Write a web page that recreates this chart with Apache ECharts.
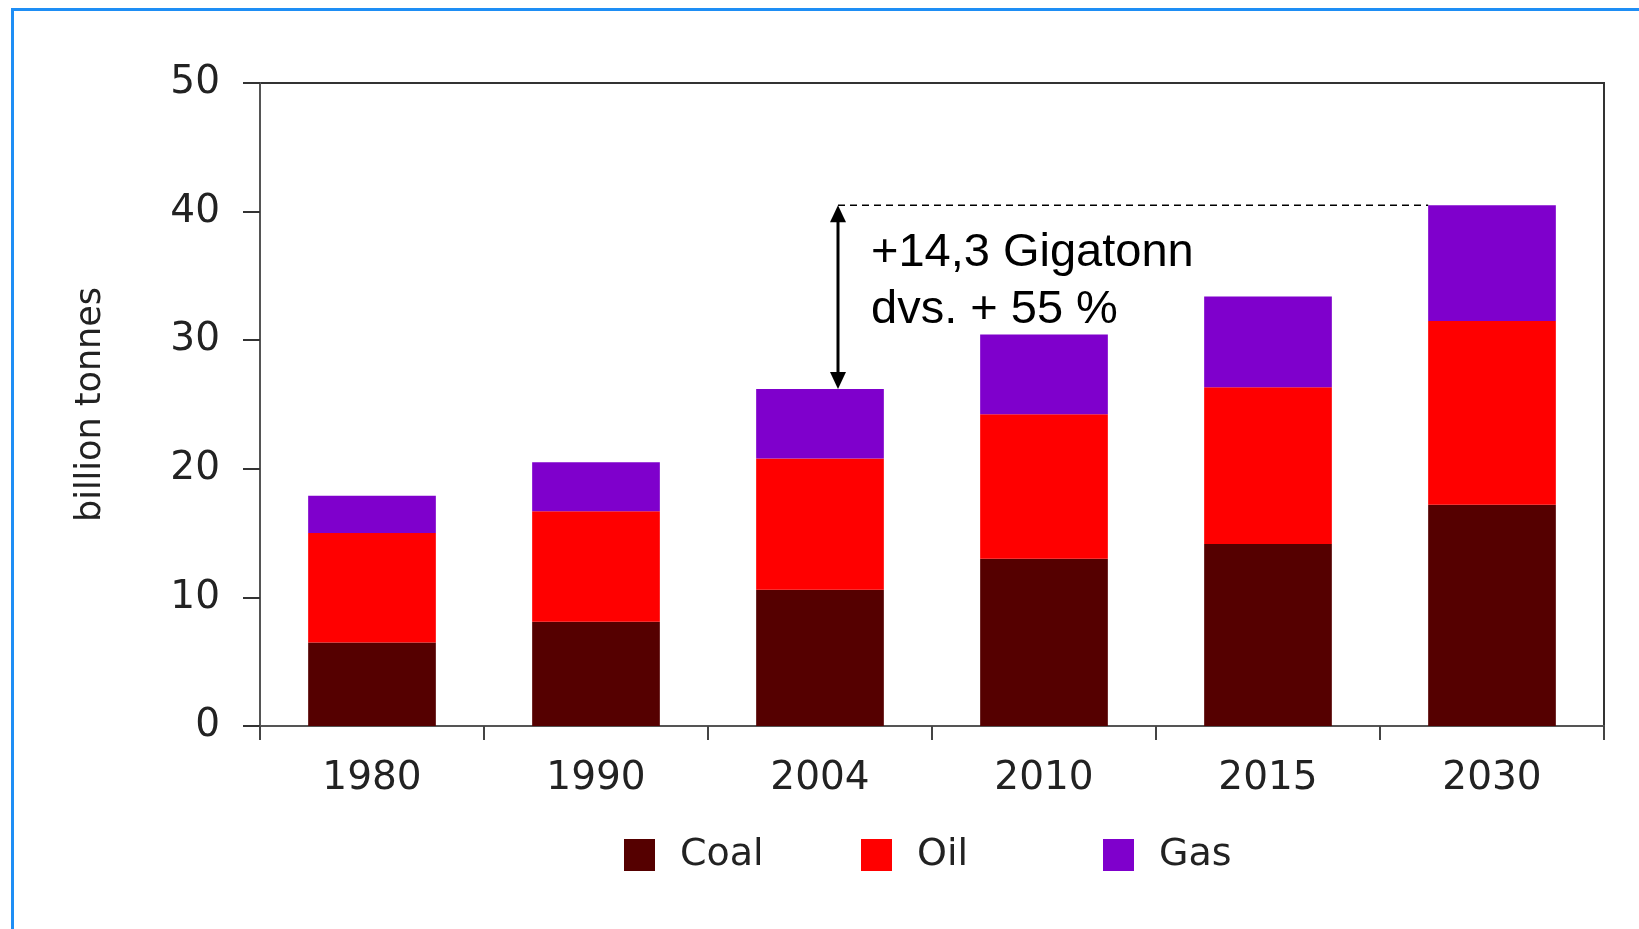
<!DOCTYPE html>
<html>
<head>
<meta charset="utf-8">
<script src="https://cdn.jsdelivr.net/npm/echarts@6/dist/echarts.min.js"></script>
<style>
html,body{margin:0;padding:0;background:#fff;}
#c{width:1639px;height:929px;}
</style>
</head>
<body>
<div id="c"></div>
<script>
const categories = ['1980', '1990', '2004', '2010', '2015', '2030'];
const coal = [6.5, 8.1, 10.6, 13.0, 14.15, 17.2];
const oil = [8.5, 8.6, 10.2, 11.25, 12.2, 14.3];
const gas = [2.9, 3.8, 5.4, 6.2, 7.05, 9.0];
const seriesNames = ['Coal', 'Oil', 'Gas'];
const colors = ['#550000', '#FF0000', '#7F00CC'];
const yName = 'billion tonnes';
const annotationLines = ['+14,3 Gigatonn', 'dvs. + 55 %'];
const fromYear = '2004';
const toYear = '2030';

const tickFont = 'DejaVu Sans';
const chart = echarts.init(document.getElementById('c'), null, {renderer: 'canvas'});

const seriesData = [coal, oil, gas];
const legendLefts = [624, 861, 1103];

const option = {
  backgroundColor: '#fff',
  animation: false,
  grid: {left: 260, top: 83, right: 35, bottom: 203, show: true, borderColor: '#333', borderWidth: 2, containLabel: false},
  legend: seriesNames.map((n, i) => ({
    data: [n], left: legendLefts[i], top: 836, padding: 0, itemWidth: 31, itemHeight: 32, icon: 'rect',
    textStyle: {fontFamily: tickFont, fontSize: 38, color: '#222', padding: [0, 0, 0, 20]}
  })),
  xAxis: {
    type: 'category', data: categories,
    axisLine: {show: true, lineStyle: {color: '#555', width: 2}},
    axisTick: {show: true, length: 14, lineStyle: {color: '#444', width: 2}},
    axisLabel: {fontFamily: tickFont, fontSize: 39, color: '#222', margin: 33}
  },
  yAxis: {
    type: 'value', min: 0, max: 50, interval: 10,
    name: yName, nameLocation: 'middle', nameRotate: 90, nameGap: 152,
    nameTextStyle: {fontFamily: tickFont, fontSize: 35, color: '#222'},
    axisLine: {show: true, lineStyle: {color: '#555', width: 2}},
    axisTick: {show: true, length: 17, lineStyle: {color: '#333', width: 2}},
    axisLabel: {fontFamily: tickFont, fontSize: 39, color: '#222', margin: 40, padding: [7, 0, 0, 0]},
    splitLine: {show: false}
  },
  series: seriesNames.map((n, i) => ({
    name: n, type: 'bar', stack: 'total', data: seriesData[i], barWidth: '57%',
    itemStyle: {color: colors[i]}
  }))
};
chart.setOption(option);

function total(idx) { return coal[idx] + oil[idx] + gas[idx]; }
const iFrom = categories.indexOf(fromYear);
const iTo = categories.indexOf(toYear);
const pFrom = chart.convertToPixel({gridIndex: 0}, [fromYear, total(iFrom)]);
const pTo = chart.convertToPixel({gridIndex: 0}, [toYear, total(iTo)]);
const catW = chart.convertToPixel({gridIndex: 0}, [categories[1], 0])[0] - chart.convertToPixel({gridIndex: 0}, [categories[0], 0])[0];
const barHalf = catW * 0.57 / 2;
const ax = pFrom[0] + 18;
const yTop = pTo[1];
const yBot = pFrom[1];

chart.setOption({
  graphic: [
    {type: 'rect', shape: {x: 12.5, y: 9.5, width: 1700, height: 1000}, style: {fill: null, stroke: '#1E8EF5', lineWidth: 3}, z: 100},
    {type: 'line', shape: {x1: ax, y1: yTop, x2: pTo[0] - barHalf, y2: yTop}, style: {stroke: '#000', lineWidth: 1.5, lineDash: [7, 5]}, z: 50},
    {type: 'line', shape: {x1: ax, y1: yTop + 14, x2: ax, y2: yBot - 14}, style: {stroke: '#000', lineWidth: 3}, z: 50},
    {type: 'polygon', shape: {points: [[ax, yTop], [ax - 8, yTop + 17], [ax + 8, yTop + 17]]}, style: {fill: '#000'}, z: 50},
    {type: 'polygon', shape: {points: [[ax, yBot], [ax - 8, yBot - 17], [ax + 8, yBot - 17]]}, style: {fill: '#000'}, z: 50},
    {type: 'text', x: ax + 33, y: yTop + 19, style: {text: annotationLines.join('\n'), font: '47px "Liberation Sans", Arial, sans-serif', fill: '#000', lineHeight: 57, verticalAlign: 'top'}, z: 50}
  ]
});
</script>
</body>
</html>
